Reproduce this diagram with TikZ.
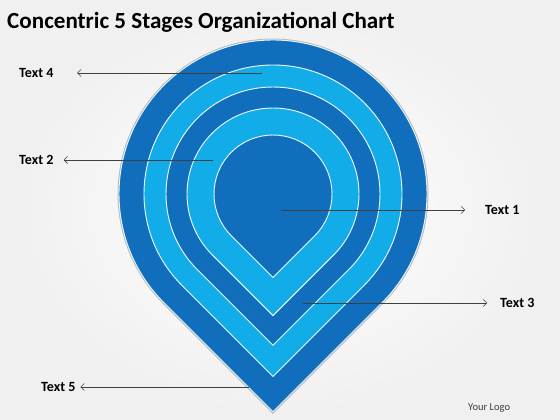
\documentclass[tikz,border=0pt]{standalone}
\usepackage{fontspec}
\setmainfont{Carlito}
\usetikzlibrary{arrows.meta,positioning,calc}

\definecolor{darkblue}{RGB}{16,110,189}
\definecolor{lightblue}{RGB}{18,172,232}
\definecolor{pointergray}{RGB}{64,64,64}

\tikzset{
  layer/.style={draw=white!90!lightblue, line width=0.8pt},
  lbl/.style={font=\fontsize{12}{14}\selectfont\bfseries, inner sep=0pt},
  pointer/.style={draw=pointergray, line width=0.5pt, -{Straight Barb[length=3pt,width=6pt]}}
}

% teardrop of radius #1, pointing down, centred on (273,226)
\newcommand{\droppath}[1]{(273,{226-#1*1.41421}) -- ($(273,226)+(-45:#1)$) arc[start angle=-45, end angle=225, radius=#1] -- cycle}

\begin{document}
\begin{tikzpicture}[x=0.03cm, y=0.03cm]
        \useasboundingbox (0,0) rectangle (560,420);
        \shade[inner color=white, outer color=gray!12] (0,0) rectangle (560,420);

        \node[anchor=base west, font=\fontsize{19.7}{22}\selectfont\bfseries, inner sep=0pt] (title) at (7,391) {Concentric 5 Stages Organizational Chart};

        % shadow of the outer drop
        \draw[gray!55, line width=2.4pt] \droppath{154};

        \fill[darkblue, layer] \droppath{154};
        \fill[lightblue, layer] \droppath{129};
        \fill[darkblue, layer] \droppath{107};
        \fill[lightblue, layer] \droppath{86};
        \fill[darkblue, layer] \droppath{59};

        \coordinate (s1) at (281,210);
        \coordinate (s2) at (213,260);
        \coordinate (s3) at (303,117);
        \coordinate (s4) at (262,347);
        \coordinate (s5) at (249,33);

        \node[lbl, anchor=west] (t1) at (485,210) {Text 1};
        \node[lbl, anchor=west] (t2) at (19,260) {Text 2};
        \node[lbl, anchor=west] (t3) at (500,117) {Text 3};
        \node[lbl, anchor=west] (t4) at (19,347) {Text 4};
        \node[lbl, anchor=west] (t5) at (41,33) {Text 5};

        \draw[pointer, shorten >=17pt] (s1) -- (t1.west);
        \draw[pointer, shorten >=8.5pt] (s2) -- (t2.east);
        \draw[pointer, shorten >=11pt] (s3) -- (t3.west);
        \draw[pointer, shorten >=20pt] (s4) -- (t4.east);
        \draw[pointer, shorten >=4pt] (s5) -- (t5.east);

        \node[anchor=west, font=\fontsize{9}{11}\selectfont, text=black!75, inner sep=0pt] (logo) at (468,12) {Your Logo};
\end{tikzpicture}
\end{document}
